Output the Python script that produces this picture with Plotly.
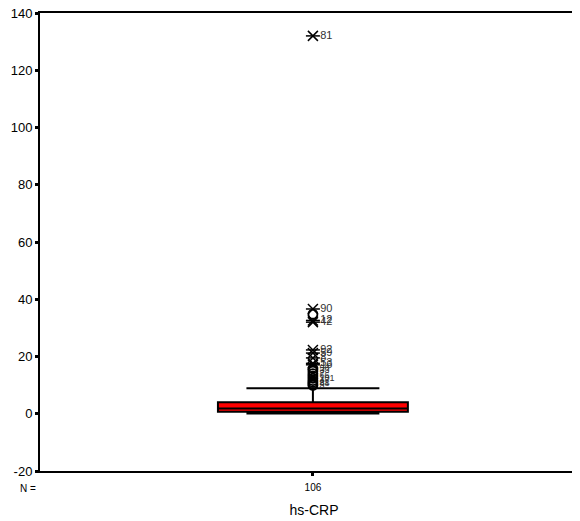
import plotly.graph_objects as go

# ---- data ----
category = "hs-CRP"
n_label = "106"
q1 = [0.7]
median = [1.8]
q3 = [4.0]
lower_fence = [0.1]
upper_fence = [8.9]

y_ticks = [-20, 0, 20, 40, 60, 80, 100, 120, 140]
y_tick_text = ["-20", "0", "20", "40", "60", "80", "100", "120", "140"]

# extreme values (asterisks) and their case labels
extreme_vals = [132.0, 36.6, 32.6, 32.0, 22.3, 21.2, 19.5, 17.6, 17.1]
extreme_labels = ["81", "90", "12", "42", "92", "59", "8", "53", "16"]

# outliers (circles) and their case labels
outlier_vals = [34.8, 15.8, 14.9, 14.0, 13.2, 12.4, 11.6, 11.0, 10.4, 9.9]
outlier_labels = ["", "58", "33", "7", "66", "101", "47", "21", "88", "3"]

fig = go.Figure()

fig.add_trace(go.Box(
    x=[0], q1=q1, median=median, q3=q3,
    lowerfence=lower_fence, upperfence=upper_fence,
    boxpoints=False, width=0.348, whiskerwidth=0.7,
    fillcolor="#ff0000", line=dict(color="black", width=2),
    showlegend=False, hoverinfo="skip",
))

fig.add_trace(go.Scatter(
    x=[0] * len(outlier_vals), y=outlier_vals, mode="markers+text",
    text=outlier_labels, textposition="middle right",
    textfont=dict(size=9, color="#333333", family="Liberation Sans"),
    marker=dict(symbol="circle-open", size=9, color="black", line=dict(width=1.8, color="black")),
    showlegend=False, cliponaxis=False,
))

fig.add_trace(go.Scatter(
    x=[0] * len(extreme_vals), y=extreme_vals, mode="markers",
    marker=dict(symbol="x-thin-open", size=10, color="black", line=dict(width=1.5, color="black")),
    showlegend=False, cliponaxis=False,
))
fig.add_trace(go.Scatter(
    x=[0] * len(extreme_vals), y=extreme_vals, mode="markers+text",
    text=extreme_labels, textposition="middle right",
    textfont=dict(size=11, color="#333333", family="Liberation Sans"),
    marker=dict(symbol="line-ew-open", size=10, color="black", line=dict(width=1.5, color="black")),
    showlegend=False, cliponaxis=False,
))

fig.add_annotation(
    x=0, xref="paper", xanchor="right", xshift=-2,
    y=-20, yref="y", yanchor="top", yshift=-10,
    text="N =", showarrow=False,
    font=dict(size=10, color="black", family="Liberation Sans"),
)

fig.update_layout(
    width=580, height=521,
    margin=dict(l=32, r=0, t=5, b=58),
    paper_bgcolor="white", plot_bgcolor="white",
    font=dict(family="Liberation Sans", color="black"),
    xaxis=dict(
        range=[-0.5, 0.504], tickvals=[0], ticktext=[n_label],
        tickfont=dict(size=10), ticks="outside", ticklen=3, tickwidth=3,
        ticklabelstandoff=3,
        tickcolor="black", showline=True, linecolor="black", linewidth=2,
        mirror=True, showgrid=False, zeroline=False, automargin=False,
        title=dict(text=category, font=dict(size=14), standoff=13),
    ),
    yaxis=dict(
        range=[-20, 140], tickvals=y_ticks, ticktext=y_tick_text,
        tickfont=dict(size=13), ticks="outside", ticklen=3, tickwidth=3,
        ticklabeloverflow="allow",
        tickcolor="black", showline=True, linecolor="black", linewidth=2,
        showgrid=False, zeroline=False, automargin=False,
    ),
)

fig.write_html("out.html")
